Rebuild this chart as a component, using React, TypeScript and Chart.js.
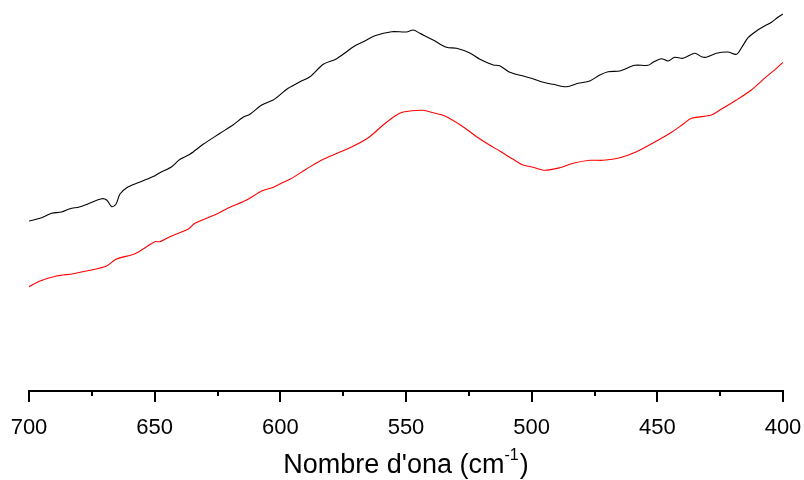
import React, { useEffect, useRef } from "react";
import { Chart, registerables } from "chart.js";

Chart.register(...registerables);

// Wavenumbers (cm-1) and relative signal (arbitrary units)
const blackWavenumber = [
  700, 695.6, 691.0, 687.0, 683.7, 680.0, 676.4, 671.1, 669.1, 667.1, 665.4, 663.8,
  661.1, 657.2, 653.2, 649.9, 647.9, 643.2, 639.9, 636.0, 630.7, 624.0, 618.7, 614.8,
  612.1, 607.4, 602.8, 601.5, 596.9, 592.2, 588.2, 582.9, 577.6, 570.3, 566.4, 562.4,
  555.7, 549.8, 547.1, 544.5, 539.2, 533.9, 529.9, 524.6, 520.6, 515.3, 512.7, 508.7,
  503.4, 500.1, 495.4, 491.5, 486.1, 481.5, 476.9, 472.9, 469.6, 464.9, 459.0, 453.7,
  451.7, 448.4, 445.7, 443.1, 439.8, 435.1, 432.4, 430.5, 426.5, 421.9, 418.5, 416.5,
  413.9, 410.6, 407.3, 404.6, 402.0, 400,
];
const blackValues = [
  170, 172.7, 177.7, 179, 182.3, 184, 187.3, 192.3, 191, 184.3, 186.7, 197,
  203.3, 207.7, 211.7, 215.3, 218.3, 224.3, 231.7, 236.7, 246.7, 257.7, 266.3, 273.7,
  276.7, 286, 291, 293.3, 302.7, 309.3, 314.3, 326.7, 332.3, 345.3, 350, 355.3,
  359.3, 359, 361, 357.7, 351, 343.7, 342.7, 338, 331.7, 326, 325.3, 318.7,
  315, 312.7, 308.7, 306.7, 304.3, 307.7, 310, 316, 319.3, 320, 325.7, 325.7,
  328.7, 332.3, 330, 333.7, 332.7, 337.7, 334.3, 333.7, 337.7, 339, 336.7, 343.3,
  353.3, 360, 365, 368.7, 373.7, 377,
];

const redWavenumber = [
  700, 695.6, 689.0, 682.4, 675.7, 669.1, 665.4, 657.8, 653.2, 649.9, 647.9, 643.9,
  636.6, 634.0, 625.3, 620.1, 613.4, 607.4, 602.8, 600.2, 596.2, 589.6, 582.9, 572.3,
  565.0, 559.1, 554.4, 551.1, 543.2, 539.2, 534.5, 527.3, 521.9, 516.6, 512.7, 507.4,
  503.4, 499.4, 494.8, 488.8, 483.5, 476.9, 471.6, 464.9, 458.3, 451.7, 445.0, 439.8,
  436.4, 428.5, 424.5, 418.5, 412.6, 406.6, 402.6, 400,
];
const redValues = [
  104.3, 110, 115, 117.3, 120.7, 125, 131.7, 137.3, 144.3, 149.3, 149.3, 154.3,
  162, 167.7, 177, 183.7, 191, 200, 203.7, 207, 211.7, 222, 231.7, 243.3,
  253.3, 266, 275, 279, 280.7, 278.3, 275, 264.3, 254.3, 245.7, 240, 231.7,
  226, 223.7, 220.7, 223.3, 227.7, 230.7, 230.7, 233.3, 239.3, 248, 257.7, 266.7,
  272.7, 276, 282, 291, 301, 314.3, 322.7, 328.7,
];

const xMajorTicks = [700, 650, 600, 550, 500, 450, 400];
const xMinorTicks = [675, 625, 575, 525, 475, 425];
const xTitleMain = "Nombre d'ona (cm";
const xTitleSup = "-1";
const xTitleEnd = ")";

const FONT = "Arial, 'Liberation Sans', sans-serif";

const axisPlugin = {
  id: "axisDecor",
  afterDraw(chart: any) {
    const ctx = chart.ctx as CanvasRenderingContext2D;
    const xs = chart.scales.x;
    const area = chart.chartArea;
    const y0 = area.bottom;
    ctx.save();
    ctx.strokeStyle = "#000";
    ctx.lineWidth = 2;
    ctx.lineCap = "butt";
    const left = xs.getPixelForValue(700);
    const right = xs.getPixelForValue(400);
    ctx.beginPath();
    ctx.moveTo(left - 1, y0);
    ctx.lineTo(right + 1, y0);
    ctx.stroke();
    const drawTick = (v: number, len: number) => {
      const px = Math.round(xs.getPixelForValue(v));
      ctx.beginPath();
      ctx.moveTo(px, y0);
      ctx.lineTo(px, y0 + len);
      ctx.stroke();
    };
    xMajorTicks.forEach((v) => drawTick(v, 11));
    xMinorTicks.forEach((v) => drawTick(v, 5));

    // axis title with superscript
    ctx.fillStyle = "#000";
    ctx.textBaseline = "alphabetic";
    ctx.textAlign = "left";
    const mainFont = `27px ${FONT}`;
    const supFont = `16px ${FONT}`;
    ctx.font = mainFont;
    const wMain = ctx.measureText(xTitleMain).width;
    const wEnd = ctx.measureText(xTitleEnd).width;
    ctx.font = supFont;
    const wSup = ctx.measureText(xTitleSup).width;
    const total = wMain + wSup + 1 + wEnd;
    const cx = (area.left + area.right) / 2;
    const baseY = 473;
    let x = cx - total / 2;
    ctx.font = mainFont;
    ctx.fillText(xTitleMain, x, baseY);
    x += wMain;
    ctx.font = supFont;
    ctx.fillText(xTitleSup, x, baseY - 13);
    x += wSup + 1;
    ctx.font = mainFont;
    ctx.fillText(xTitleEnd, x, baseY);
    ctx.restore();
  },
};

export default function App() {
  const ref = useRef<HTMLCanvasElement | null>(null);

  useEffect(() => {
    if (!ref.current) return;
    const black = blackWavenumber.map((w, i) => ({ x: w, y: blackValues[i] }));
    const red = redWavenumber.map((w, i) => ({ x: w, y: redValues[i] }));
    const chart = new Chart(ref.current, {
      type: "line",
      data: {
        datasets: [
          {
            data: black,
            borderColor: "#000000",
            borderWidth: 1.1,
            pointRadius: 0,
            tension: 0.3,
            fill: false,
          },
          {
            data: red,
            borderColor: "#ff0000",
            borderWidth: 1.1,
            pointRadius: 0,
            tension: 0.3,
            fill: false,
          },
        ],
      },
      options: {
        animation: false,
        responsive: false,
        maintainAspectRatio: false,
        layout: { padding: { left: 29, right: 21, top: 0, bottom: 0 } },
        plugins: {
          legend: { display: false },
          tooltip: { enabled: false },
          title: { display: false },
        },
        scales: {
          x: {
            type: "linear",
            reverse: true,
            min: 400,
            max: 700,
            afterBuildTicks: (s: any) => {
              s.ticks = xMajorTicks.map((v) => ({ value: v }));
            },
            afterFit: (s: any) => {
              s.height = 89;
              s.paddingLeft = 0;
              s.paddingRight = 0;
            },
            grid: { display: false, drawTicks: false },
            border: { display: false },
            ticks: {
              color: "#000",
              font: { family: FONT, size: 22 },
              padding: 24,
              maxRotation: 0,
              autoSkip: false,
              callback: (v: any) => String(v),
            },
          },
          y: {
            type: "linear",
            display: false,
            min: 0,
            max: 391,
          },
        },
      },
      plugins: [axisPlugin],
    });
    return () => chart.destroy();
  }, []);

  return (
    <div style={{ position: "absolute", left: 0, top: 0, width: 804, height: 480, background: "#fff" }}>
      <canvas ref={ref} width={804} height={480} style={{ display: "block" }} />
    </div>
  );
}
